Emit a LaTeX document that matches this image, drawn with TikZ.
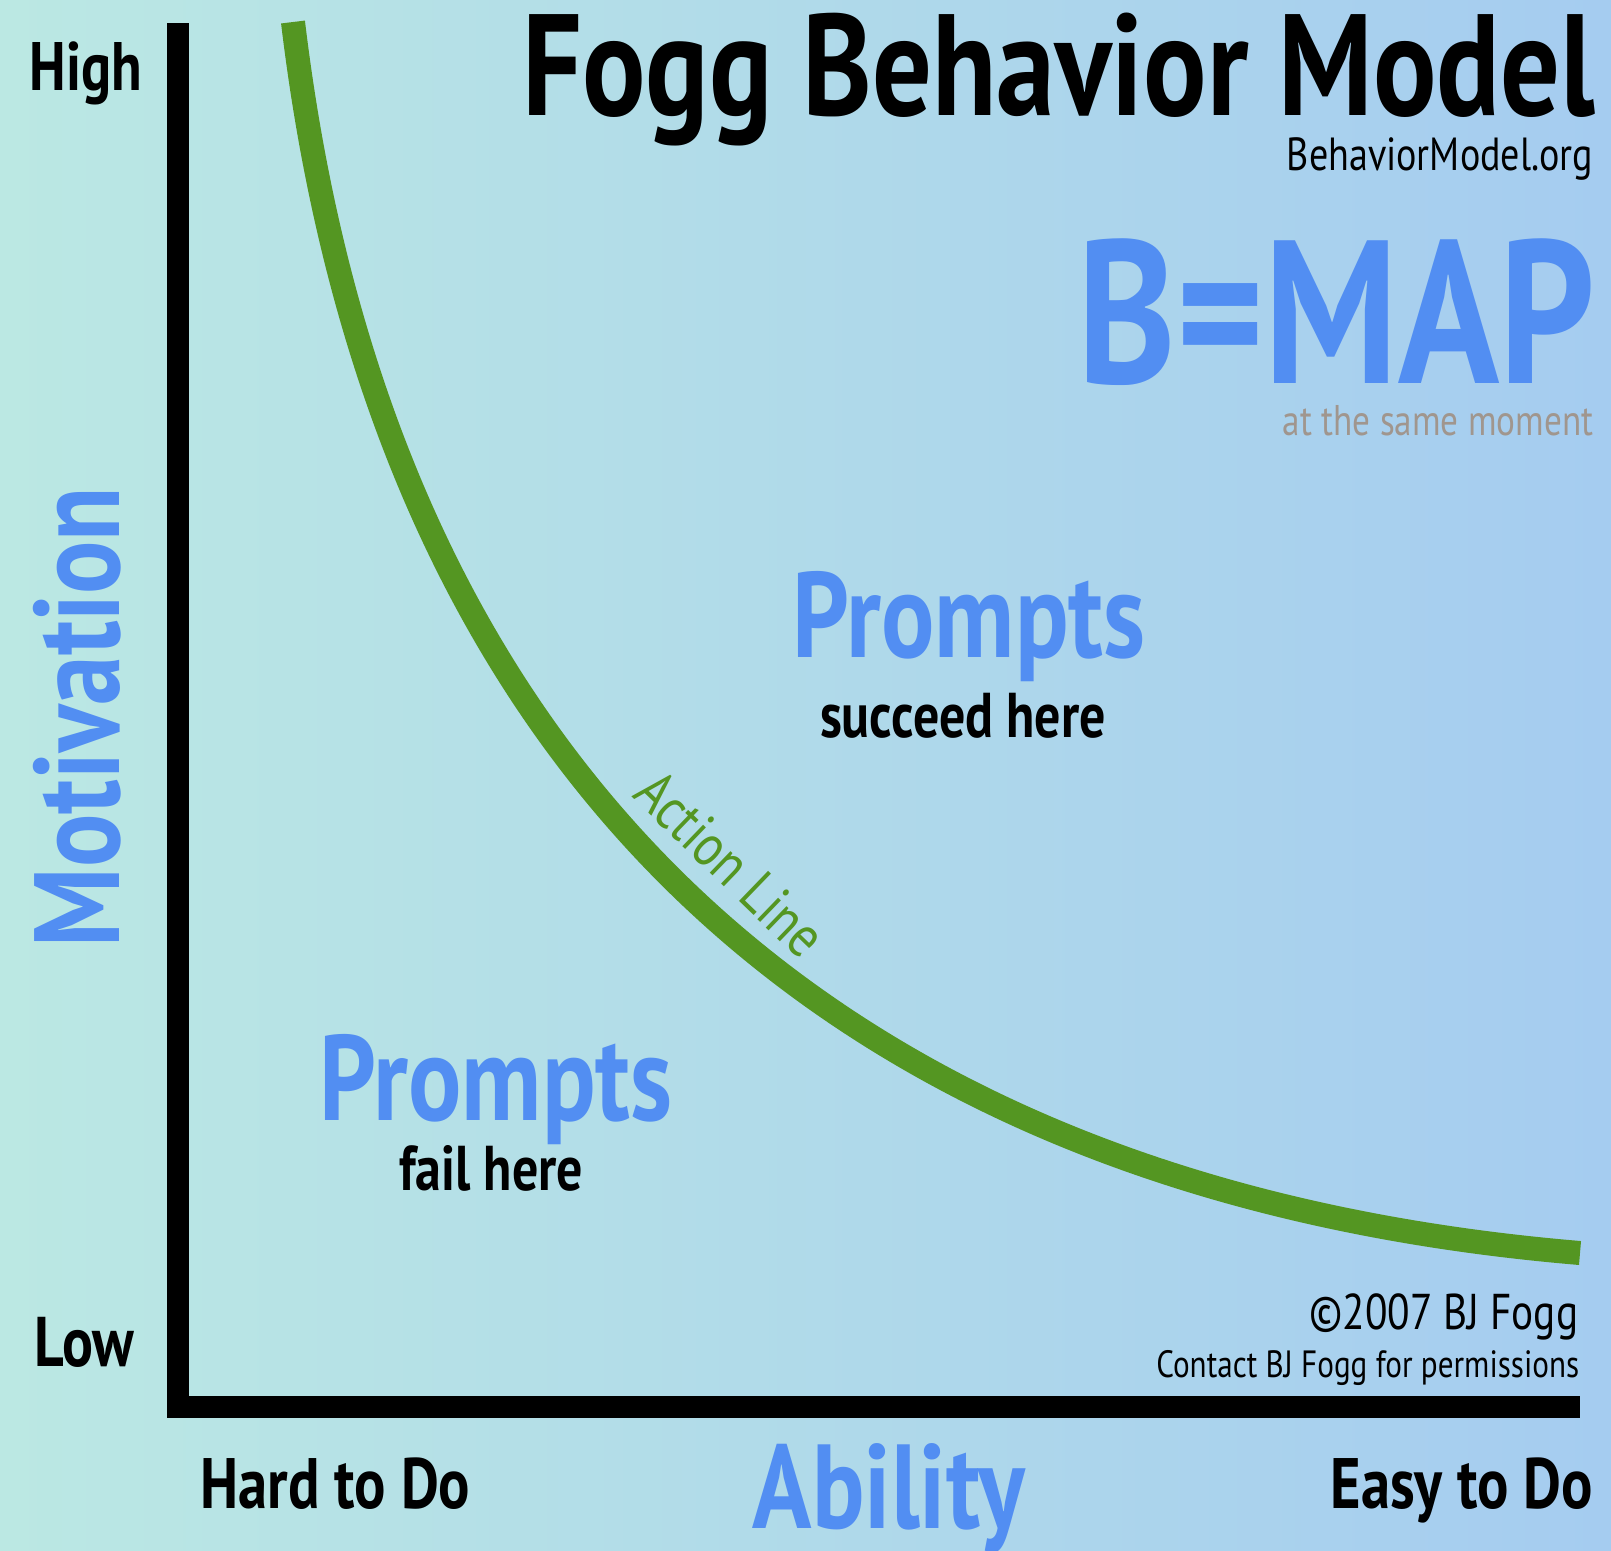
\documentclass[tikz,border=0pt]{standalone}
\usepackage{fontspec}
\newfontfamily\fbm{PT Sans}[FakeStretch=0.82]
\definecolor{bgleft}{RGB}{187,232,227}
\definecolor{bgright}{RGB}{165,204,240}
\definecolor{mapblue}{RGB}{82,142,242}
\definecolor{actgreen}{RGB}{84,150,34}
\definecolor{momgrey}{RGB}{160,150,142}

\begin{document}
\begin{tikzpicture}[x=0.01cm,y=-0.01cm]

        \shade[left color=bgleft,right color=bgright] (0,0) rectangle (1611,1550);
        \useasboundingbox (0,0) rectangle (1611,1550);

        % axes
        \draw[line width=0.22cm,line join=miter] (178,23) -- (178,1407) -- (1580,1407);

        % action line
        \coordinate (top) at (293,22);
        \coordinate (tail) at (1580,1253);
        \draw[actgreen,line width=0.24cm] (top) .. controls (383,772) and (830,1190) .. (tail);

        \begin{scope}[every node/.style={inner sep=0pt,font=\fbm\bfseries}]
          \node[anchor=base west,font=\fbm\bfseries\fontsize{19.5}{19.5}\selectfont] (high) at (29,90) {High};
          \node[anchor=base west,font=\fbm\bfseries\fontsize{20}{20}\selectfont] (low) at (34,1366) {Low};
          \node[anchor=base west,font=\fbm\bfseries\fontsize{20.3}{20.3}\selectfont] (hard) at (200,1508) {Hard to Do};
          \node[anchor=base east,font=\fbm\bfseries\fontsize{20.3}{20.3}\selectfont] (easy) at (1594,1508) {Easy to Do};
          \node[anchor=base east,font=\fbm\bfseries\fontsize{41}{41}\selectfont] (title) at (1596,115) {Fogg Behavior Model};
          \node[anchor=base,font=\fbm\bfseries\fontsize{18}{18}\selectfont] (succeed) at (963,737) {succeed here};
          \node[anchor=base,font=\fbm\bfseries\fontsize{18}{18}\selectfont] (fail) at (491,1190) {fail here};
        \end{scope}

        \begin{scope}[every node/.style={inner sep=0pt,text=mapblue}]
          \node[anchor=base,rotate=90,font=\fbm\bfseries\fontsize{34.5}{34.5}\selectfont] (motivation) at (120,717) {Motivation};
          \node[anchor=base,font=\fbm\bfseries\fontsize{34}{34}\selectfont] (ability) at (889,1528) {Ability};
          \node[anchor=base east,font=\fbm\bfseries\fontsize{58}{58}\selectfont] (bmap) at (1596,383) {B=MAP};
          \node[anchor=base,font=\fbm\bfseries\fontsize{34.5}{34.5}\selectfont] (promptsup) at (969,657) {Prompts};
          \node[anchor=base,font=\fbm\bfseries\fontsize{34.5}{34.5}\selectfont] (promptsdown) at (496,1120) {Prompts};
        \end{scope}

        \begin{scope}[every node/.style={inner sep=0pt,font=\fbm}]
          \node[anchor=base east,font=\fbm\fontsize{13.2}{13.2}\selectfont] (site) at (1594,170) {BehaviorModel.org};
          \node[anchor=base east,text=momgrey,font=\fbm\fontsize{12.2}{12.2}\selectfont] (moment) at (1594,435) {at the same moment};
          \node[anchor=base east,font=\fbm\fontsize{14.3}{14.3}\selectfont] (copyright) at (1579,1329) {©2007 BJ Fogg};
          \node[anchor=base east,font=\fbm\fontsize{10.8}{10.8}\selectfont] (contact) at (1580,1377) {Contact BJ Fogg for permissions};
          \node[anchor=base,rotate=-44,text=actgreen,font=\fbm\fontsize{17}{17}\selectfont] (actionlabel) at (716,879) {Action Line};
        \end{scope}

      \end{tikzpicture}
\end{document}
